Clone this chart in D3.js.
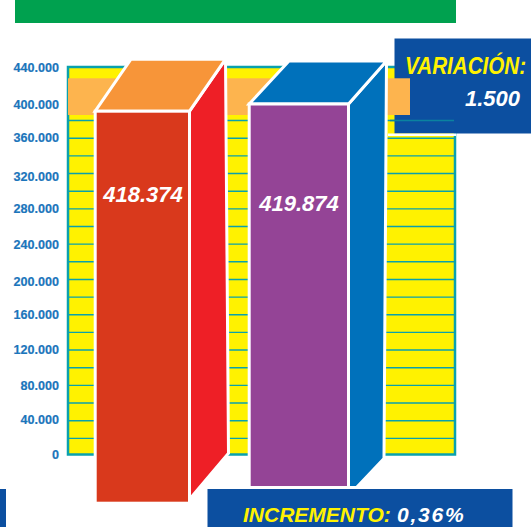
<!DOCTYPE html>
<html><head><meta charset="utf-8">
<script src="https://cdn.jsdelivr.net/npm/d3@7"></script>
<style>html,body{margin:0;padding:0;background:#fff}svg{display:block}text{font-family:"Liberation Sans",Arial,sans-serif}</style>
</head><body><svg id="c" width="531" height="527"></svg>
<script>
const categories = ["A", "B"];
const values = [418374, 419874];
const variationLabel = "VARIACIÓN:";
const variation = 1500;
const incrementLabel = "INCREMENTO:";
const increment = "0,36%";
const tickValues = [0,40000,80000,120000,160000,200000,240000,280000,320000,360000,400000,440000];
const gridValues = d3.range(0, 440001, 20000);
const bandRange = [386300, 427900];
const frontColors = ["#d9391c", "#944496"];
const sideColors = ["#ee1f26", "#0071bb"];
const topColors = ["#f79539", "#0071bb"];

const num = d3.formatLocale({decimal:",",thousands:".",grouping:[3],currency:["",""]}).format(",d");
const svg = d3.select("#c");
const TEAL = "#0aa1ad", BOX = "#0c4fa0", YEL = "#fff200", GOLD = "#fdb44e";

const x0 = 68, x1 = 455;
const y = d3.scaleLinear().domain([0,440000]).range([456,67.6]);

// title band
svg.append("rect").attr("x",15).attr("y",-2).attr("width",441).attr("height",25).attr("fill","#00a14f");

// plot
svg.append("rect").attr("x",x0).attr("y",y(440000)-0.6).attr("width",x1-x0).attr("height",y(0)-y(440000)-0.9)
  .attr("fill",YEL).attr("stroke",TEAL).attr("stroke-width",2.5);
const grid = svg.append("g");
grid.selectAll("line").data(gridValues.filter(d=>d>0&&d<440000)).join("line")
  .attr("x1",x0).attr("x2",x1).attr("y1",d=>y(d)).attr("y2",d=>y(d))
  .attr("stroke",TEAL).attr("stroke-width",1.4);

// axis: the printed labels sit a little off their grid lines in the original
const labelNudge = {0:-1.5,40000:-1.5,120000:-1,200000:1.5,320000:3,360000:-0.5,400000:2,440000:0};
const axis = svg.append("g").attr("transform",`translate(${x0},0)`)
  .call(d3.axisLeft(y).tickValues(tickValues).tickSize(0).tickPadding(9).tickFormat(d=>d===0?"0":num(d)));
axis.select(".domain").remove();
axis.selectAll("text").attr("font-size",12.6).attr("font-weight","bold").attr("fill","#1b75bb")
  .attr("stroke","#1b75bb").attr("stroke-width",0.2)
  .attr("transform",d=>`translate(0,${labelNudge[d]||0})`)
  .style("font-family",'"Liberation Sans",Arial,sans-serif');

// variation box
svg.append("rect").attr("x",394.5).attr("y",38.5).attr("width",140).attr("height",95).attr("fill",BOX);
svg.append("rect").attr("x",388).attr("y",133.5).attr("width",68).attr("height",2.5).attr("fill","#fff");
svg.append("line").attr("x1",390).attr("x2",454).attr("y1",y(380000)).attr("y2",y(380000))
  .attr("stroke","#0b83a0").attr("stroke-width",1.4);

// band
svg.append("rect").attr("x",x0).attr("width",410-x0).attr("y",y(bandRange[1])).attr("height",y(bandRange[0])-y(bandRange[1])).attr("fill",GOLD);

// bars, each front plane has its own baseline because of the perspective
const barX = d3.scaleOrdinal().domain(categories).range([[95.2,189.5],[249.2,348.5]]);
const barScale = [
  d3.scaleLinear().domain([0,values[0]]).range([503.2,111.2]),
  d3.scaleLinear().domain([0,values[1]]).range([487.5,104])
];
const depth = [
  {top:[36,-52],right:[39,-50],floor:[0,-4],back:131},
  {top:[38,-43],right:[35.5,-29],floor:[8,0],back:289}
];
const textY = [202, 211];
const bars = svg.append("g");
categories.forEach((c,i)=>{
  const [l,r] = barX(c), ys = barScale[i](0), yt = barScale[i](values[i]), d = depth[i];
  const pts = a=>a.map(p=>p.join(",")).join(" ");
  bars.append("polygon").attr("points",pts([[r,yt],[r+d.top[0],yt+d.top[1]],[r+d.right[0],ys+d.right[1]],[r+d.floor[0],ys+d.floor[1]],[r,ys]]))
    .attr("fill",sideColors[i]).attr("stroke","#fff").attr("stroke-width",3);
  bars.append("polygon").attr("points",pts([[l,yt],[d.back,yt+d.top[1]],[r+d.top[0],yt+d.top[1]],[r,yt]]))
    .attr("fill",topColors[i]).attr("stroke","#fff").attr("stroke-width",3);
  bars.append("rect").attr("x",l).attr("y",yt).attr("width",r-l).attr("height",ys-yt)
    .attr("fill",frontColors[i]).attr("stroke","#fff").attr("stroke-width",3);
  bars.append("text").attr("x",i?299:143).attr("y",textY[i]).attr("text-anchor","middle")
    .attr("font-size",22).attr("font-weight","bold").attr("font-style","italic").attr("fill","#fff").text(num(values[i]));
});

// boxes and labels
svg.append("rect").attr("x",-2).attr("y",489).attr("width",8).attr("height",40).attr("fill",BOX);
svg.append("rect").attr("x",207.5).attr("y",489).attr("width",305).attr("height",40).attr("fill",BOX);
const label = (x,yy,size,fill,t,anchor,sx,ls)=>{
  svg.append("text").attr("transform",`translate(${x},${yy}) scale(${sx||1},1)`).attr("font-size",size).attr("font-weight","bold")
    .attr("font-style","italic").attr("fill",fill).attr("text-anchor",anchor||"start").attr("letter-spacing",ls||0).text(t);
};
label(405,74,24,YEL,variationLabel,"start",0.86);
label(492.5,106,22,"#fff",num(variation),"middle");
label(243,522,21,YEL,incrementLabel,"start",1);
label(397,522,21,"#fff",increment,"start",1,1.8);
</script></body></html>
